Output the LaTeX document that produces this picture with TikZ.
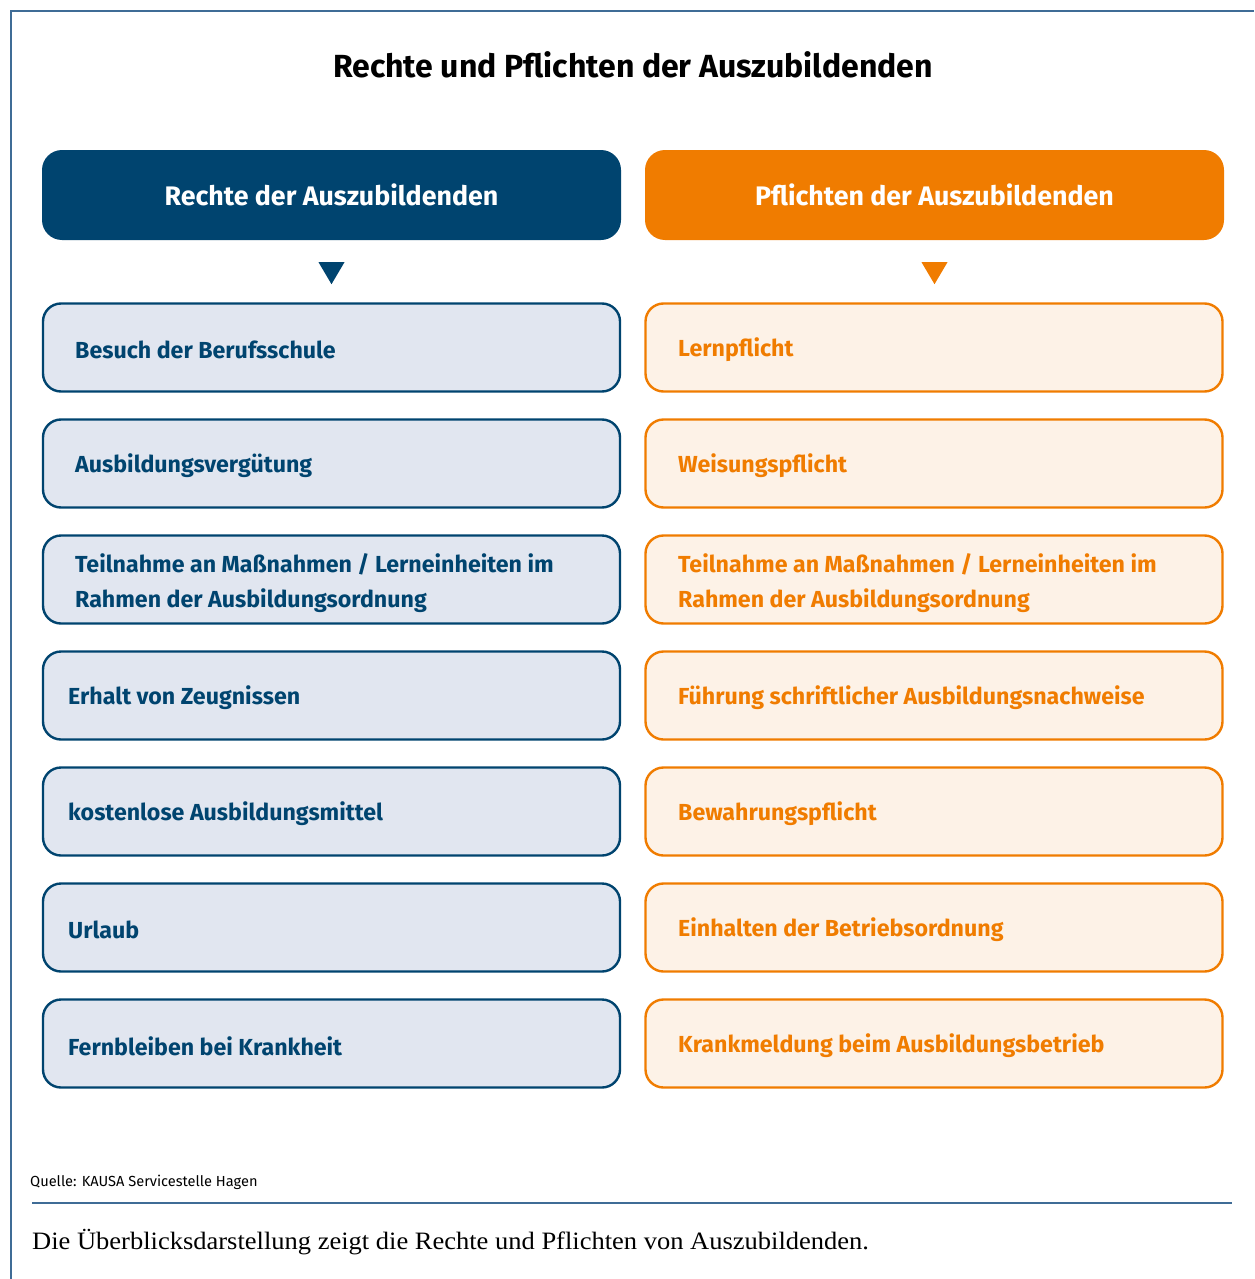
\documentclass[tikz,border=0pt]{standalone}
\usepackage{fontspec}
\usetikzlibrary{calc}
\setmainfont{Fira Sans}
\newfontfamily\capfont[FakeStretch=1.06]{Liberation Serif}
\definecolor{dblue}{HTML}{00446F}
\definecolor{lblue}{HTML}{E1E6F0}
\definecolor{orng}{HTML}{F07C00}
\definecolor{lorng}{HTML}{FDF2E7}
\definecolor{frm}{HTML}{3F6C96}
\tikzset{
  hdrbox/.style={rounded corners=20pt, minimum width=579pt, minimum height=90pt, inner sep=0pt, font=\fontsize{26.8}{30}\selectfont\bfseries, text=white},
  itembox/.style={rounded corners=18pt, line width=2.4pt, minimum width=577pt, minimum height=88pt, inner sep=0pt},
  lbox/.style={itembox, draw=dblue, fill=lblue},
  rbox/.style={itembox, draw=orng, fill=lorng},
  itemtxt/.style={anchor=west, inner sep=0pt, align=left, font=\fontsize{23.2}{35}\selectfont\bfseries},
  frame/.style={draw=frm, line width=2pt}
}
\begin{document}
\begin{tikzpicture}[x=1pt,y=-1pt]
\useasboundingbox (0,0) rectangle (1254,1279);
\fill[white] (0,0) rectangle (1254,1279);
\draw[frame] (1254,11) -- (11,11) -- (11,1279);
\node[font=\fontsize{32}{36}\selectfont\bfseries] (title) at (633,65) {Rechte und Pflichten der Auszubildenden};
\node[hdrbox, fill=dblue] (hL) at (331.5,195) {Rechte der Auszubildenden};
\node[hdrbox, fill=orng] (hR) at (934.5,195) {Pflichten der Auszubildenden};
\fill[dblue] ($(hL.south)+(-13,22)$) -- ++(26,0) -- ++(-13,22) -- cycle;
\fill[orng] ($(hR.south)+(-13,22)$) -- ++(26,0) -- ++(-13,22) -- cycle;
\foreach \i/\x/\dy/\lt/\rt in {
 1/75/2.5/{Besuch der Berufsschule}/{Lernpflicht},
 2/75/2.5/{Ausbildungsvergütung}/{Weisungspflicht},
 3/75/4/{Teilnahme an Maßnahmen / Lerneinheiten im\\Rahmen der Ausbildungsordnung}/{Teilnahme an Maßnahmen / Lerneinheiten im\\Rahmen der Ausbildungsordnung},
 4/68/2.5/{Erhalt von Zeugnissen}/{Führung schriftlicher Ausbildungsnachweise},
 5/68/2.5/{kostenlose Ausbildungsmittel}/{Bewahrungspflicht},
 6/68/2.5/{Urlaub}/{Einhalten der Betriebsordnung},
 7/68/2.5/{Fernbleiben bei Krankheit}/{Krankmeldung beim Ausbildungsbetrieb}} {
  \pgfmathsetmacro{\yy}{347.5+116*(\i-1)}
  \pgfmathsetmacro{\ty}{\yy+\dy}
  \node[lbox] (l\i) at (331.5,\yy) {};
  \node[rbox] (r\i) at (934,\yy) {};
  \node[itemtxt, text=dblue] (lt\i) at (\x,\ty) {\lt};
  \node[itemtxt, text=orng] (rt\i) at (678,\ty) {\rt};
}
\node[anchor=west, inner sep=0pt, font=\fontsize{14.6}{16}\selectfont] (src) at (30,1182) {Quelle: KAUSA Servicestelle Hagen};
\draw[draw=frm, line width=1.6pt] (32,1203) -- (1232,1203);
\node[anchor=west, inner sep=0pt, font=\capfont\fontsize{25}{28}\selectfont] (cap) at (32,1242) {Die Überblicksdarstellung zeigt die Rechte und Pflichten von Auszubildenden.};
\end{tikzpicture}
\end{document}
